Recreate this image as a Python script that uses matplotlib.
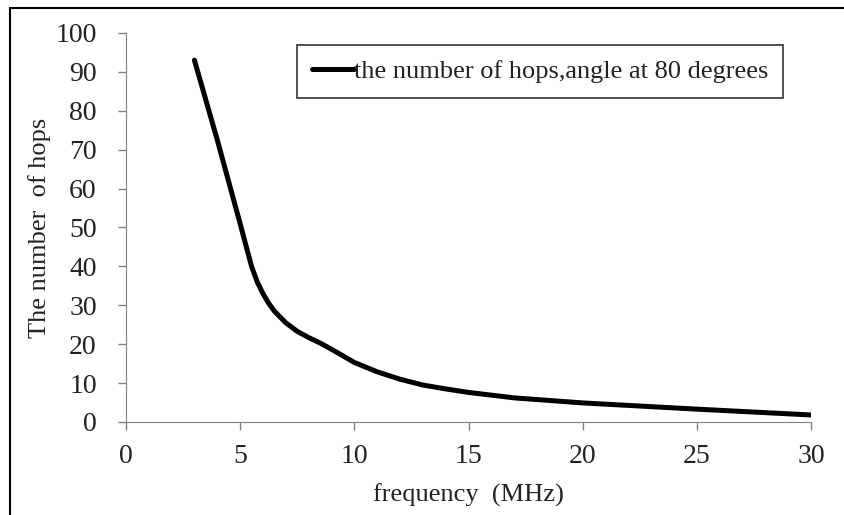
import matplotlib.pyplot as plt
from matplotlib.patches import Rectangle

freq = [3, 4, 5, 5.25, 5.5, 5.75, 6, 6.25, 6.5, 7, 7.5, 8, 8.5, 9, 10, 11, 12, 13, 14, 15,
        17, 20, 25, 30]
hops = [93, 72.5, 51, 45.5, 40, 36, 33, 30.5, 28.5, 25.5, 23.3, 21.7, 20.3, 18.7, 15.3,
        12.9, 11, 9.5, 8.5, 7.6, 6.2, 4.9, 3.3, 1.8]
series_label = 'the number of hops,angle at 80 degrees'

plt.rcParams['font.family'] = ['Liberation Serif', 'DejaVu Serif']
text_color = '#222222'

fig = plt.figure(figsize=(8.45, 5.15), dpi=100)
ax = fig.add_axes([0.149, 0.1806, 0.811, 0.7554])

ax.plot(freq, hops, color='black', lw=3.6, solid_capstyle='round',
        solid_joinstyle='round', label=series_label)

ax.set_xlim(0, 30)
ax.set_ylim(0, 100)
ax.set_xticks(range(0, 31, 5))
ax.set_yticks(range(0, 101, 10))
ax.tick_params(labelsize=20, direction='out', length=6, color='#808080', width=1,
               labelcolor=text_color)
ax.tick_params(axis='x', pad=10)
ax.tick_params(axis='y', pad=15)
for s in ['top', 'right']:
    ax.spines[s].set_visible(False)
for s in ['left', 'bottom']:
    ax.spines[s].set_color('#808080')

ax.set_xlabel('frequency  (MHz)', fontsize=19, labelpad=10, color=text_color)
ax.set_ylabel('The number  of hops', fontsize=19, labelpad=3, color=text_color)

leg = ax.legend(loc='upper right', bbox_to_anchor=(783 / 845, 1 - 45 / 515),
                bbox_transform=fig.transFigure, fontsize=19, handlelength=1.6,
                handletextpad=0.0, borderpad=0.55, borderaxespad=0,
                fancybox=False, framealpha=1)
leg.get_frame().set_edgecolor('#333333')
leg.get_frame().set_linewidth(1.2)
for t in leg.get_texts():
    t.set_color(text_color)

# outer frame (top and left edges visible, right/bottom cropped)
fig.add_artist(Rectangle((10 / 845, -0.1), 1.2, 1 - 8 / 515 + 0.1,
                         transform=fig.transFigure, fill=False,
                         edgecolor='black', lw=1.5))

plt.savefig('out.png')
plt.close()
